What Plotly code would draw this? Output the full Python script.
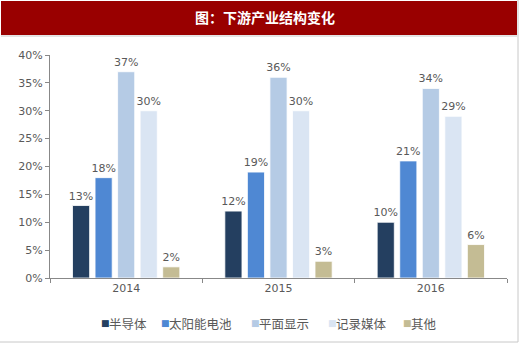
import plotly.graph_objects as go

years = ["2014", "2015", "2016"]
series_names = ["半导体", "太阳能电池", "平面显示", "记录媒体", "其他"]
semiconductor = [13, 12, 10]
solar = [18, 19, 21]
display = [37, 36, 34]
media = [30, 30, 29]
other = [2, 3, 6]
y_ticks = [0, 5, 10, 15, 20, 25, 30, 35, 40]
y_tick_labels = ["0%", "5%", "10%", "15%", "20%", "25%", "30%", "35%", "40%"]

colors = ["#243F60", "#4F88D3", "#B5CBE5", "#DAE5F3", "#C4BC94"]
all_values = [semiconductor, solar, display, media, other]

W, H = 520, 343
L, R, T, B = 50, 13, 55, 65
pw, ph = W - L - R, H - T - B

def px(x):
    return (x - L) / pw

def py(y):
    return (H - B - y) / ph

fig = go.Figure()
for name, vals, c in zip(series_names, all_values, colors):
    fig.add_trace(go.Bar(
        x=years, y=vals, name=name,
        marker=dict(color=c, line=dict(color="white", width=0.8)),
        text=[f"{v}%" for v in vals], textposition="outside",
        constraintext="none",
        textfont=dict(family="DejaVu Sans", size=11, color="#595959"),
        cliponaxis=False,
    ))

legend_x = [100, 160, 250, 327, 402]
annotations = [
    dict(text="<b>图：下游产业结构变化</b>", xref="paper", yref="paper", x=px(265), y=py(17),
         xanchor="center", yanchor="middle", showarrow=False,
         font=dict(family="Noto Sans CJK SC", size=14, color="white")),
]
for name, c, lx in zip(series_names, colors, legend_x):
    annotations.append(dict(text="■", xref="paper", yref="paper", x=px(lx - 1), y=py(323),
                            xanchor="left", yanchor="middle", showarrow=False,
                            font=dict(family="DejaVu Sans", size=9, color=c)))
    annotations.append(dict(text=name, xref="paper", yref="paper", x=px(lx + 7), y=py(323),
                            xanchor="left", yanchor="middle", showarrow=False,
                            font=dict(family="Noto Sans CJK SC", size=12.5, color="#595959")))

fig.update_layout(
    width=W, height=H,
    margin=dict(l=L, r=R, t=T, b=B),
    paper_bgcolor="white", plot_bgcolor="white",
    barmode="group", bargap=0.26, bargroupgap=0.24,
    showlegend=False,
    xaxis=dict(showline=True, linecolor="#888888", linewidth=1, ticks="outside",
               tickson="boundaries", ticklen=4, tickcolor="#888888",
               tickfont=dict(family="DejaVu Sans", size=11, color="#595959"),
               showgrid=False),
    yaxis=dict(range=[0, 40], tickvals=y_ticks, ticktext=y_tick_labels,
               showline=True, linecolor="#888888", linewidth=1, ticks="outside",
               ticklen=4, tickcolor="#888888", showgrid=False, zeroline=False,
               tickfont=dict(family="DejaVu Sans", size=11, color="#595959")),
    shapes=[
        dict(type="rect", xref="paper", yref="paper", x0=px(1), x1=px(517), y0=py(1), y1=py(35),
             fillcolor="#990000", line=dict(width=0), layer="below"),
        dict(type="line", xref="paper", yref="paper", x0=px(1), x1=px(517), y0=py(36), y1=py(36),
             line=dict(color="#C8C8C8", width=1)),
        dict(type="line", xref="paper", yref="paper", x0=px(518), x1=px(518), y0=py(0), y1=py(342),
             line=dict(color="#C8C8C8", width=1)),
        dict(type="line", xref="paper", yref="paper", x0=px(0), x1=px(518), y0=py(342), y1=py(342),
             line=dict(color="#C8C8C8", width=1)),
    ],
    annotations=annotations,
)

fig.write_html("out.html")
